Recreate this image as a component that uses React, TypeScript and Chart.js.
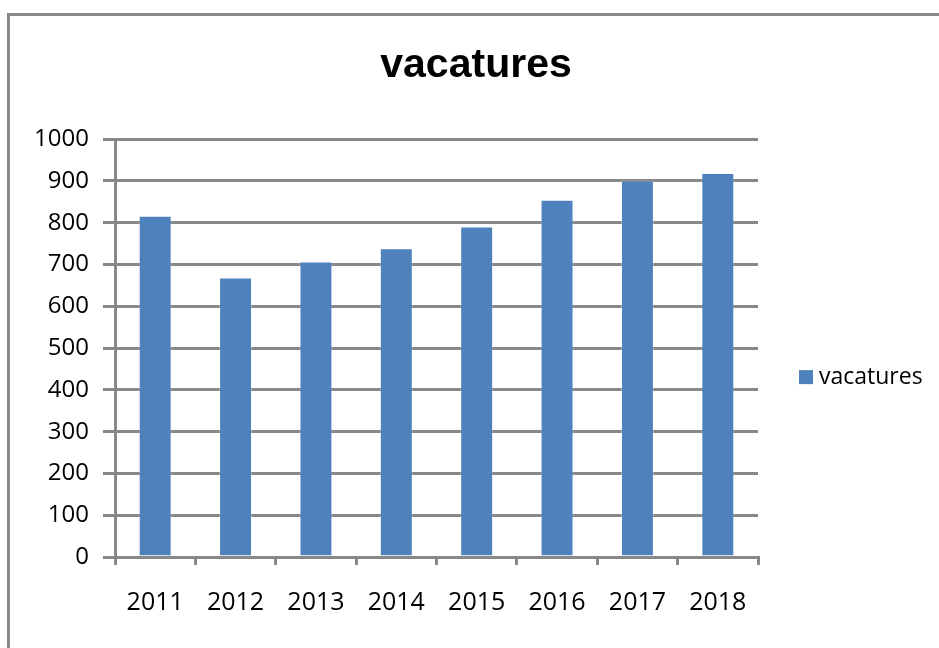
import React, { useEffect, useRef } from "react";
import { Chart, registerables } from "chart.js";

Chart.register(...registerables);

const categories: string[] = ["2011", "2012", "2013", "2014", "2015", "2016", "2017", "2018"];
const seriesName = "vacatures";
const vacatures: number[] = [817, 669, 707, 739, 791, 855, 901, 919];
const yTickMin = 0;
const yTickMax = 1000;
const yTickStep = 100;

const BAR_COLOR = "#4F81BD";
const AXIS_COLOR = "#888888";
const FONT = "'Open Sans', 'Liberation Sans', sans-serif";

const sideLegend = {
  id: "sideLegend",
  afterDraw(chart: any) {
    const { ctx, chartArea } = chart;
    const x = chartArea.right + 41;
    const y = chart.height * 0.582;
    ctx.save();
    chart.data.datasets.forEach((ds: any, i: number) => {
      const cy = y + i * 30;
      ctx.fillStyle = ds.backgroundColor;
      ctx.fillRect(x, cy - 7, 14, 14);
      ctx.fillStyle = "#000";
      ctx.font = `23px ${FONT}`;
      ctx.textBaseline = "middle";
      ctx.textAlign = "left";
      ctx.fillText(ds.label, x + 20, cy);
    });
    ctx.restore();
  },
};

export default function App() {
  const canvasRef = useRef<HTMLCanvasElement | null>(null);

  useEffect(() => {
    if (!canvasRef.current) return;
    const chart = new Chart(canvasRef.current, {
      type: "bar",
      data: {
        labels: categories,
        datasets: [
          {
            label: seriesName,
            data: vacatures,
            backgroundColor: BAR_COLOR,
            borderColor: "rgba(255,255,255,0.3)",
            borderWidth: 1,
            barPercentage: 0.41,
            categoryPercentage: 1,
            yAxisID: "y",
          },
        ],
      },
      options: {
        responsive: false,
        animation: false,
        devicePixelRatio: 1,
        layout: { padding: { left: 13, right: 0, top: 0, bottom: 0 } },
        plugins: {
          legend: { display: false },
          tooltip: { enabled: false },
          title: {
            display: true,
            text: seriesName,
            color: "#000",
            font: { family: "'Liberation Sans', Arial, sans-serif", size: 41, weight: "bold", lineHeight: 1.2 },
            padding: { top: 41, bottom: 49 },
          },
        },
        scales: {
          x: {
            grid: {
              display: true,
              drawOnChartArea: false,
              drawTicks: true,
              tickLength: 8,
              color: AXIS_COLOR,
              lineWidth: 3,
              offset: true,
            },
            border: { display: true, color: AXIS_COLOR, width: 3 },
            ticks: {
              color: "#000",
              font: { family: FONT, size: 25 },
              padding: 23,
              maxRotation: 0,
            },
            afterFit: (s: any) => {
              s.height = 91;
            },
          },
          y: {
            min: yTickMin,
            max: yTickMax,
            grid: {
              color: AXIS_COLOR,
              lineWidth: 3,
              drawTicks: true,
              tickLength: 12,
            },
            border: { display: true, color: AXIS_COLOR, width: 3 },
            ticks: {
              stepSize: yTickStep,
              color: "#000",
              font: { family: FONT, size: 24 },
              padding: 14,
              callback: (v: any) => String(v),
            },
            afterFit: (s: any) => {
              s.width = 102;
            },
          },
          yLegendSpace: {
            type: "linear",
            position: "right",
            display: true,
            grid: { display: false },
            border: { display: false },
            ticks: { display: false },
            afterFit: (s: any) => {
              s.width = 181;
            },
          },
        },
      },
      plugins: [sideLegend],
    } as any);
    return () => chart.destroy();
  }, []);

  return (
    <div
      style={{
        position: "fixed",
        left: 0,
        top: 0,
        width: 939,
        height: 648,
        background: "#fff",
        overflow: "hidden",
      }}
    >
      <div
        style={{
          position: "absolute",
          left: 7,
          top: 13,
          width: 2000,
          height: 2000,
          borderTop: "3px solid #898989",
          borderLeft: "3px solid #898989",
        }}
      />
      <canvas
        ref={canvasRef}
        width={939}
        height={648}
        style={{ position: "absolute", left: 0, top: 0, width: 939, height: 648, display: "block" }}
      />
    </div>
  );
}
